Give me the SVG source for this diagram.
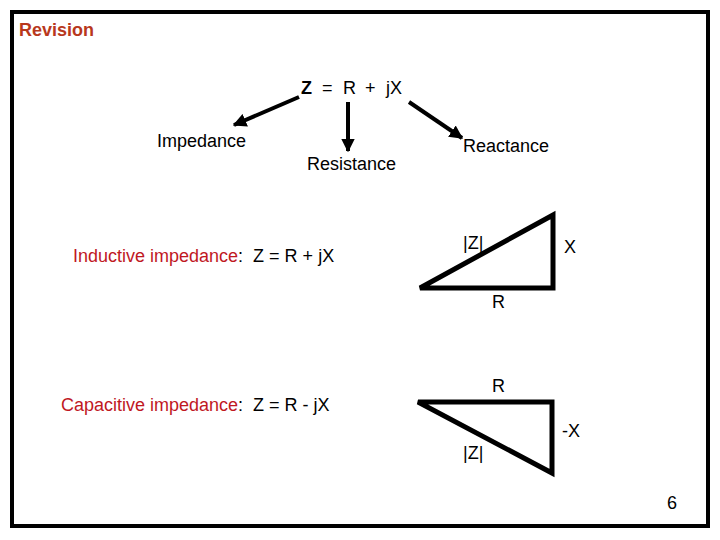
<svg xmlns="http://www.w3.org/2000/svg" width="720" height="540" viewBox="0 0 720 540">
<style>
text{font-family:"Liberation Sans",Arial,sans-serif;font-size:18px;fill:#000}
.red{fill:#c0181f}
.title{font-weight:bold;font-size:18px;fill:#b8381c}
.conn{stroke:#000;stroke-width:4;fill:none}
.tri{stroke:#000;stroke-width:5;fill:none;stroke-linejoin:miter}
</style>
<defs>
<marker id="ah" viewBox="0 0 10 10" refX="9" refY="5" markerWidth="3.4" markerHeight="3.4" orient="auto" markerUnits="strokeWidth">
<path d="M0,0 L10,5 L0,10 z" fill="#000"/>
</marker>
</defs>
<rect x="0" y="0" width="720" height="540" fill="#fff"/>
<rect x="12" y="12" width="696" height="514" fill="none" stroke="#000" stroke-width="4"/>
<text class="title" x="19" y="36">Revision</text>
<g id="equation">
<text x="301" y="94" font-weight="bold">Z</text>
<text x="322" y="94">=</text>
<text x="343" y="94">R</text>
<text x="365" y="94">+</text>
<text x="386" y="94">jX</text>
</g>
<g id="connectors">
<line class="conn" x1="299" y1="97" x2="234" y2="125" marker-end="url(#ah)"/>
<line class="conn" x1="348" y1="102" x2="348" y2="151" marker-end="url(#ah)"/>
<line class="conn" x1="409" y1="102" x2="462" y2="138" marker-end="url(#ah)"/>
</g>
<g id="impedance"><text x="157" y="147">Impedance</text></g>
<g id="resistance"><text x="307" y="170">Resistance</text></g>
<g id="reactance"><text x="463" y="152">Reactance</text></g>
<g id="inductive">
<text x="73" y="262" font-size="17.5" xml:space="preserve"><tspan class="red">Inductive impedance</tspan>:  Z = R + jX</text>
</g>
<g id="triangle1">
<path class="tri" d="M420,288 L553,288 L553,215 Z"/>
<text x="463" y="249">|Z|</text>
<text x="564" y="253">X</text>
<text x="492" y="308">R</text>
</g>
<g id="capacitive">
<text x="61" y="411" font-size="17.5" xml:space="preserve"><tspan class="red">Capacitive impedance</tspan>:  Z = R - jX</text>
</g>
<g id="triangle2">
<path class="tri" d="M418,402 L552,402 L552,473 Z"/>
<text x="492" y="392">R</text>
<text x="562" y="437">-X</text>
<text x="463" y="459">|Z|</text>
</g>
<text x="667" y="509" font-size="13">6</text>
</svg>
